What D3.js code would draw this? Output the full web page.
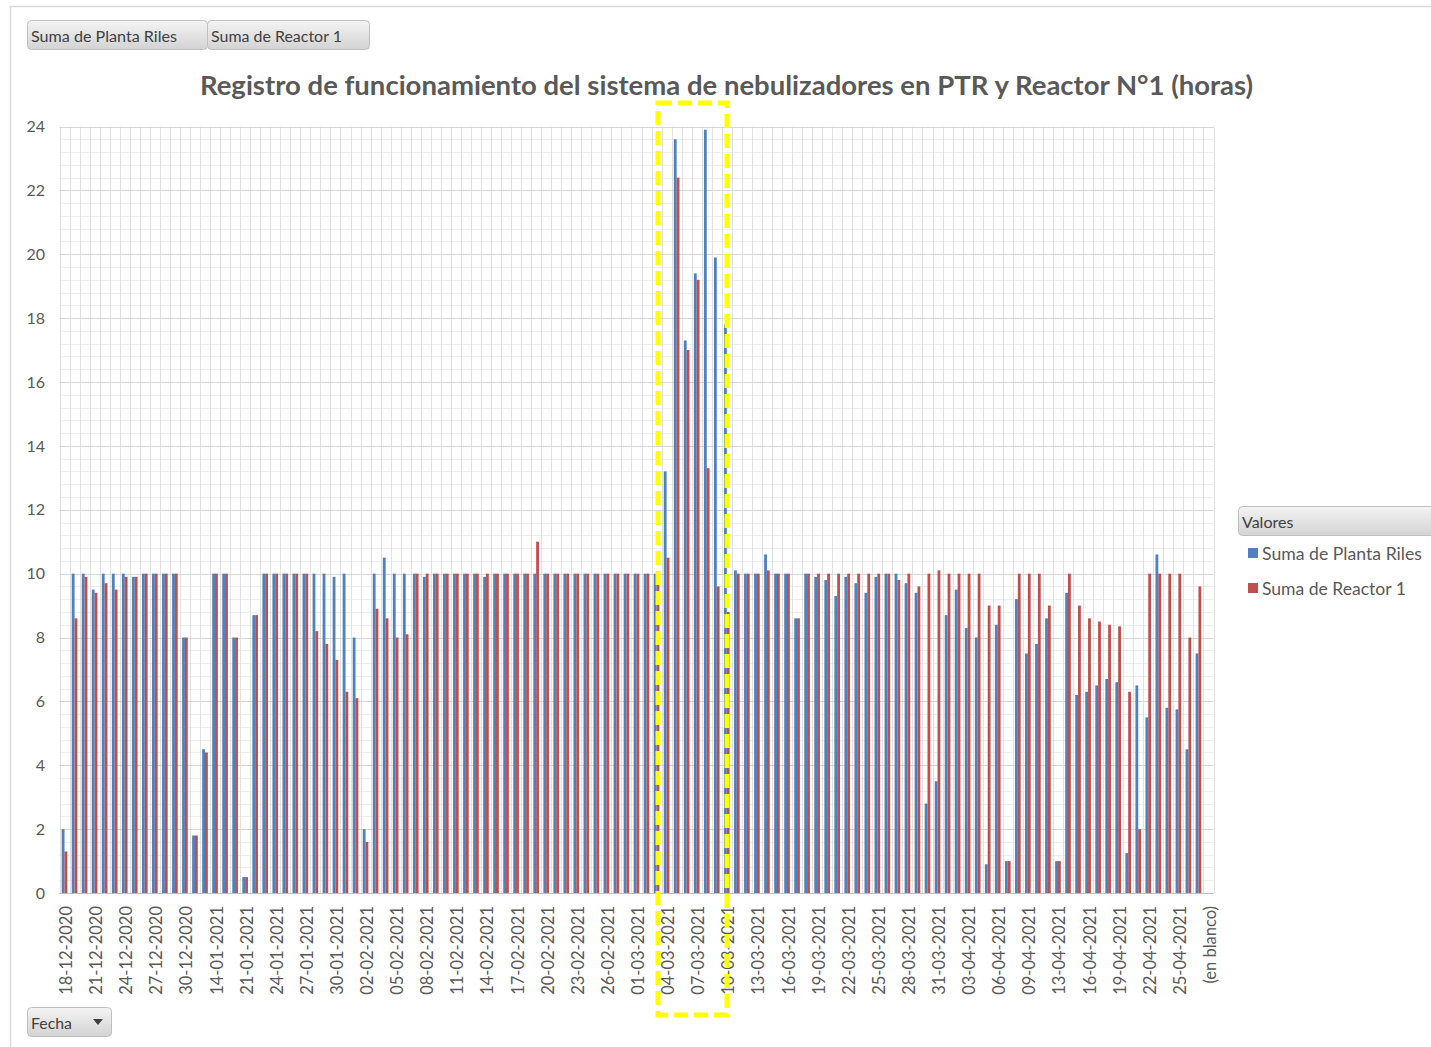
<!DOCTYPE html>
<html>
<head>
<meta charset="utf-8">
<script src="https://cdn.jsdelivr.net/npm/d3@7"></script>
<style>
  body { margin: 0; background: #fff; }
  svg { display: block; font-family: Lato, "Noto Sans", sans-serif; }
</style>
</head>
<body>
<svg id="chart" width="1431" height="1047"></svg>
<script>
// categorias (Fecha) de la tabla dinamica
var dates = [
  "18-12-2020","19-12-2020","20-12-2020","21-12-2020","22-12-2020","23-12-2020","24-12-2020",
  "25-12-2020","26-12-2020","27-12-2020","28-12-2020","29-12-2020","30-12-2020","31-12-2020",
  "13-01-2021","14-01-2021","15-01-2021","19-01-2021",
  "21-01-2021","22-01-2021","23-01-2021","24-01-2021","25-01-2021","26-01-2021","27-01-2021",
  "28-01-2021","29-01-2021","30-01-2021","31-01-2021",
  "01-02-2021","02-02-2021","03-02-2021","04-02-2021","05-02-2021","06-02-2021","07-02-2021",
  "08-02-2021","09-02-2021","10-02-2021","11-02-2021","12-02-2021","13-02-2021","14-02-2021",
  "15-02-2021","16-02-2021","17-02-2021","18-02-2021","19-02-2021","20-02-2021","21-02-2021",
  "22-02-2021","23-02-2021","24-02-2021","25-02-2021","26-02-2021","27-02-2021","28-02-2021",
  "01-03-2021","02-03-2021","03-03-2021","04-03-2021","05-03-2021","06-03-2021","07-03-2021",
  "08-03-2021","09-03-2021","10-03-2021","11-03-2021","12-03-2021","13-03-2021","14-03-2021",
  "15-03-2021","16-03-2021","17-03-2021","18-03-2021","19-03-2021","20-03-2021","21-03-2021",
  "22-03-2021","23-03-2021","24-03-2021","25-03-2021","26-03-2021","27-03-2021","28-03-2021",
  "29-03-2021","30-03-2021","31-03-2021",
  "01-04-2021","02-04-2021","03-04-2021","04-04-2021","05-04-2021","06-04-2021","07-04-2021",
  "08-04-2021","09-04-2021","10-04-2021",
  "12-04-2021","13-04-2021","14-04-2021","15-04-2021","16-04-2021","17-04-2021","18-04-2021",
  "19-04-2021","20-04-2021","21-04-2021","22-04-2021","23-04-2021","24-04-2021","25-04-2021",
  "26-04-2021","27-04-2021",
  "(en blanco)"
];

// Suma de Planta Riles (horas), 10 por fila
var plantaRiles = [
  2, 10, 10, 9.5, 10, 10, 10, 9.9, 10, 10,
  10, 10, 8, 1.8, 4.5, 10, 10, 8, 0.5, 8.7,
  10, 10, 10, 10, 10, 10, 10, 9.9, 10, 8,
  2, 10, 10.5, 10, 10, 10, 9.9, 10, 10, 10,
  10, 10, 9.9, 10, 10, 10, 10, 10, 10, 10,
  10, 10, 10, 10, 10, 10, 10, 10, 10, 10,
  13.2, 23.6, 17.3, 19.4, 23.9, 19.9, 17.8, 10.1, 10, 10,
  10.6, 10, 10, 8.6, 10, 9.9, 9.8, 9.3, 9.9, 9.7,
  9.4, 9.9, 10, 10, 9.7, 9.4, 2.8, 3.5, 8.7, 9.5,
  8.3, 8, 0.9, 8.4, 1, 9.2, 7.5, 7.8, 8.6, 1,
  9.4, 6.2, 6.3, 6.5, 6.7, 6.6, 1.25, 6.5, 5.5, 10.6,
  5.8, 5.75, 4.5, 7.5, null
];

// Suma de Reactor 1 (horas), 10 por fila
var reactor1 = [
  1.3, 8.6, 9.9, 9.4, 9.7, 9.5, 9.9, 9.9, 10, 10,
  10, 10, 8, 1.8, 4.4, 10, 10, 8, 0.5, 8.7,
  10, 10, 10, 10, 10, 8.2, 7.8, 7.3, 6.3, 6.1,
  1.6, 8.9, 8.6, 8, 8.1, 10, 10, 10, 10, 10,
  10, 10, 10, 10, 10, 10, 10, 11, 10, 10,
  10, 10, 10, 10, 10, 10, 10, 10, 10, 10,
  10.5, 22.4, 17, 19.2, 13.3, 9.6, 8.8, 10, 10, 10,
  10.1, 10, 10, 8.6, 10, 10, 10, 10, 10, 10,
  10, 10, 10, 9.8, 10, 9.6, 10, 10.1, 10, 10,
  10, 10, 9, 9, 1, 10, 10, 10, 9, 1,
  10, 9, 8.6, 8.5, 8.4, 8.35, 6.3, 2, 10, 10,
  10, 10, 8, 9.6, null
];

var seriesNames = ["Suma de Planta Riles", "Suma de Reactor 1"];
var seriesColors = ["#4f81bd", "#c0504d"];
var yTicks = [0, 2, 4, 6, 8, 10, 12, 14, 16, 18, 20, 22, 24];
var title = "Registro de funcionamiento del sistema de nebulizadores en PTR y Reactor N°1 (horas)";

var svg = d3.select("#chart");
var plotLeft = 59.5, plotRight = 1213.5, plotTop = 126.5, plotBottom = 893;

// ajusta el tamaño de letra para que el texto ocupe un ancho dado
function fitText(sel, width) {
    var fs = parseFloat(sel.attr("font-size"));
    var w = sel.node().getComputedTextLength();
    sel.attr("font-size", (fs * width / w).toFixed(2));
}

var defs = svg.append("defs");
var grad = defs.append("linearGradient").attr("id", "btn").attr("x1", 0).attr("y1", 0).attr("x2", 0).attr("y2", 1);
grad.append("stop").attr("offset", "0%").attr("stop-color", "#f4f4f4");
grad.append("stop").attr("offset", "100%").attr("stop-color", "#d3d3d3");

// marco del area del grafico
svg.append("path")
    .attr("d", "M10.5,1047V6.5H1431")
    .attr("fill", "none")
    .attr("stroke", "#d9d9d9")
    .attr("stroke-width", 1.5);

function button(x, y, w, h, label, size, tw) {
    var g = svg.append("g");
    g.append("rect")
        .attr("x", x + 0.5).attr("y", y + 0.5)
        .attr("width", w).attr("height", h)
        .attr("rx", 4)
        .attr("fill", "url(#btn)")
        .attr("stroke", "#bfbfbf");
    var t = g.append("text")
        .attr("x", x + 4).attr("y", y + h / 2 + 1)
        .attr("dominant-baseline", "central")
        .attr("font-size", size)
        .attr("fill", "#404040")
        .text(label);
    if (tw) fitText(t, tw);
    return g;
}

button(27, 20, 180, 29, "Suma de Planta Riles", 15, 146);
button(207, 20, 162, 29, "Suma de Reactor 1", 15, 131);

var titleText = svg.append("text")
    .attr("x", 726.5).attr("y", 84)
    .attr("text-anchor", "middle")
    .attr("dominant-baseline", "central")
    .attr("font-size", 26)
    .attr("font-weight", "bold")
    .attr("fill", "#595959")
    .text(title);
fitText(titleText, 1053);

var x0 = d3.scaleBand().domain(dates).range([plotLeft, plotRight]).padding(0);
var bw = x0.bandwidth();
var x1 = d3.scaleBand().domain(seriesNames).range([2.2, bw - 2.2]).padding(0);
var y = d3.scaleLinear().domain([0, 24]).range([plotBottom, plotTop]);

// cuadricula
var grid = svg.append("g");
grid.selectAll("line.minor")
    .data(d3.range(0, 24.001, 0.4))
    .enter().append("line")
    .attr("x1", plotLeft).attr("x2", plotRight)
    .attr("y1", d => Math.round(y(d)) + 0.5).attr("y2", d => Math.round(y(d)) + 0.5)
    .attr("stroke", "#eeeeee");
grid.selectAll("line.v")
    .data(dates.map(d => x0(d)).concat([plotRight]))
    .enter().append("line")
    .attr("x1", d => Math.round(d) + 0.5).attr("x2", d => Math.round(d) + 0.5)
    .attr("y1", plotTop).attr("y2", plotBottom)
    .attr("stroke", "#e1e1e1");
grid.selectAll("line.major")
    .data(yTicks)
    .enter().append("line")
    .attr("x1", plotLeft).attr("x2", plotRight)
    .attr("y1", d => Math.round(y(d)) + 0.5).attr("y2", d => Math.round(y(d)) + 0.5)
    .attr("stroke", "#d6d6d6");

// eje Y
var yAxis = svg.append("g")
    .attr("transform", "translate(45,0)")
    .call(d3.axisLeft(y).tickValues(yTicks).tickSize(0).tickPadding(0));
yAxis.select(".domain").remove();
yAxis.selectAll("text")
    .attr("font-family", "Lato, 'Noto Sans', sans-serif")
    .attr("font-size", 16)
    .attr("fill", "#595959");

// barras
var series = [plantaRiles, reactor1];
var groups = svg.append("g").selectAll("g")
    .data(dates)
    .enter().append("g")
    .attr("transform", d => "translate(" + x0(d) + ",0)");
groups.selectAll("rect")
    .data((d, i) => seriesNames.map((s, k) => ({ key: s, value: series[k][i], color: seriesColors[k] })))
    .enter().filter(d => d.value != null).append("rect")
    .attr("x", d => x1(d.key))
    .attr("width", x1.bandwidth())
    .attr("y", d => y(d.value))
    .attr("height", d => plotBottom - y(d.value))
    .attr("fill", d => d.color);

// eje X
svg.append("line")
    .attr("x1", plotLeft).attr("x2", plotRight)
    .attr("y1", plotBottom + 0.5).attr("y2", plotBottom + 0.5)
    .attr("stroke", "#bfbfbf");
var xAxis = svg.append("g")
    .attr("transform", "translate(0," + plotBottom + ")")
    .call(d3.axisBottom(x0).tickSize(0).tickValues(dates.filter((d, i) => i % 3 === 0)));
xAxis.select(".domain").remove();
xAxis.selectAll("text")
    .attr("font-family", "Lato, 'Noto Sans', sans-serif")
    .attr("font-size", 16.5)
    .attr("fill", "#595959")
    .attr("text-anchor", "end")
    .attr("dominant-baseline", "central")
    .attr("dy", null)
    .attr("y", 0)
    .attr("transform", "translate(1.5,13) rotate(-90)");

// recuadro amarillo
svg.append("rect")
    .attr("x", 658).attr("y", 103)
    .attr("width", 69).attr("height", 912)
    .attr("fill", "none")
    .attr("stroke", "#ffff00")
    .attr("stroke-width", 5)
    .attr("stroke-dasharray", "14,6");

// leyenda
button(1238, 506, 200, 29, "Valores", 16, null);
var legend = svg.append("g").selectAll("g")
    .data(seriesNames)
    .enter().append("g")
    .attr("transform", (d, i) => "translate(1248," + (553 + i * 35) + ")");
legend.append("rect")
    .attr("x", 0).attr("y", -5)
    .attr("width", 10).attr("height", 10)
    .attr("fill", (d, i) => seriesColors[i]);
legend.append("text")
    .attr("x", 14).attr("y", 0)
    .attr("dominant-baseline", "central")
    .attr("font-size", 16)
    .attr("fill", "#595959")
    .text(d => d)
    .each(function (d, i) { fitText(d3.select(this), i === 0 ? 160 : 144); });

// boton Fecha
var fecha = button(27, 1007, 84, 29, "Fecha", 16, 41);
fecha.append("path")
    .attr("d", "M93,1019h10l-5,6z")
    .attr("fill", "#404040");
</script>
</body>
</html>
